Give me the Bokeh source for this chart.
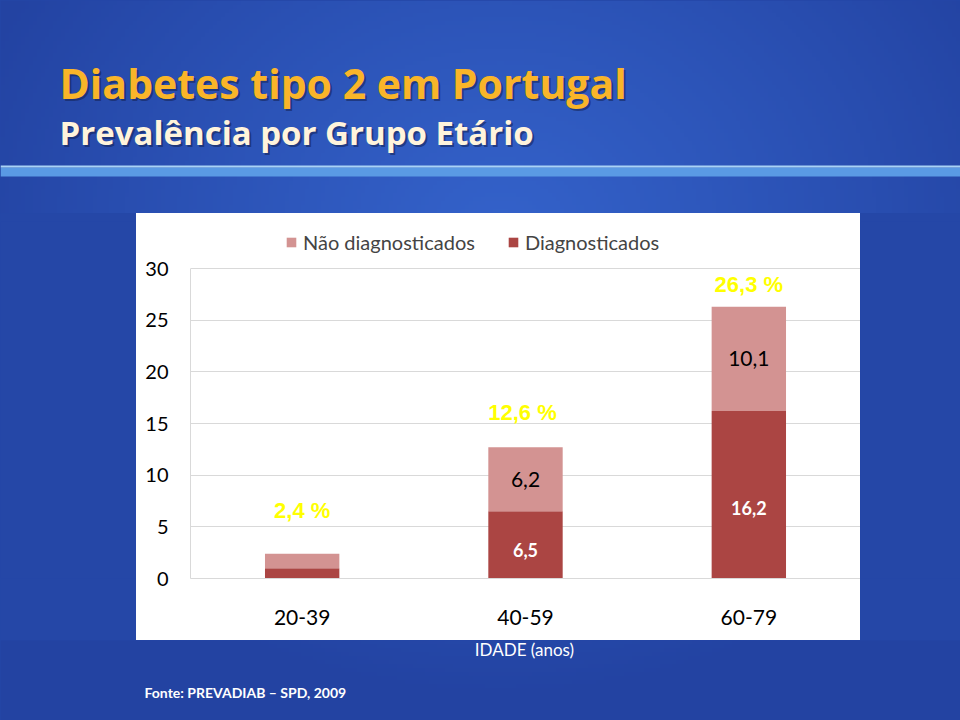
import numpy as np
from bokeh.plotting import figure
from bokeh.models import (ColumnDataSource, Range1d, FactorRange, Legend, LegendItem,
                          FixedTicker)
from bokeh.layouts import column, row
from bokeh.core.properties import value
from bokeh.embed import file_html
from bokeh.resources import INLINE

# ---------------- data ----------------
age_groups = ["20-39", "40-59", "60-79"]
diagnosticados = [1.0, 6.5, 16.2]
nao_diagnosticados = [1.4, 6.2, 10.1]
diag_labels = ["", "6,5", "16,2"]
nao_labels = ["", "6,2", "10,1"]
total_labels = ["2,4 %", "12,6  %", "26,3 %"]
y_ticks = [0, 5, 10, 15, 20, 25, 30]

title_text = "Diabetes tipo 2 em Portugal"
subtitle_text = "Prevalência por Grupo Etário"
x_axis_title = "IDADE (anos)"
source_note = "Fonte: PREVADIAB – SPD, 2009"
series_names = ["Não diagnosticados", "Diagnosticados"]

# ---------------- styles ----------------
LIGHT = "#D39392"
DARK = "#AB4543"
YELLOW = "#FFFF00"
GRID = "#D9D9D9"
FONT = "Lato"
TFONT = "Open Sans"
STRIP = "#2547A7"
SW, SH = 960, 720  # slide size (page pixels)

# background gradient (decoration only)
gw, gh = 240, 180
gx = (np.arange(gw) + 0.5) * SW / gw
gup = (np.arange(gh) + 0.5) * SH / gh
GX, GUP = np.meshgrid(gx, gup)
GY = SH - GUP
dist = np.sqrt(((GX - 500) / 560) ** 2 + ((GY - 230) / 470) ** 2)
tt = np.clip(dist, 0, 1) ** 1.1
c0 = np.array([52, 98, 202], dtype=float)
c1 = np.array([35, 67, 162], dtype=float)
rgb = c0 + (c1 - c0) * tt[..., None]
bg_img = np.empty((gh, gw), dtype=np.uint32)
bv = bg_img.view(dtype=np.uint8).reshape((gh, gw, 4))
bv[..., 0] = rgb[..., 0]
bv[..., 1] = rgb[..., 1]
bv[..., 2] = rgb[..., 2]
bv[..., 3] = 255


def U(y):
    return SH - y


def decor(x0, x1, y0, y1, gradient=True, fill=STRIP):
    f = figure(width=int(x1 - x0), height=int(y1 - y0),
               x_range=Range1d(x0, x1), y_range=Range1d(U(y1), U(y0)),
               x_axis_type=None, y_axis_type=None, toolbar_location=None,
               output_backend="svg", outline_line_color=None,
               background_fill_color=fill, border_fill_color=fill,
               styles={"background-color": fill})
    f.min_border = 0
    f.min_border_left = 0
    f.min_border_right = 0
    f.min_border_top = 0
    f.min_border_bottom = 0
    if gradient:
        f.image_rgba(image=[bg_img], x=0, y=0, dw=SW, dh=SH)
    return f


# ---------------- header ----------------
header = decor(0, 960, 0, 213)
header.quad(left=[0], right=[SW], bottom=[U(176)], top=[U(167)],
            fill_color="#5A9AE4", line_color=None)
header.quad(left=[0], right=[SW], bottom=[U(167)], top=[U(165)],
            fill_color="#A9D3F5", line_color=None)
for txt, yb, size, col in [(title_text, 82, "41px", "#F9B529"),
                           (subtitle_text, 132, "33px", "#FFF4DC")]:
    header.text(x=[61], y=[U(yb) - 2], text=[txt], text_font=value(TFONT),
                text_font_style="bold", text_font_size=size, text_color="#13204F",
                text_alpha=0.55, text_baseline="alphabetic", text_align="left")
    header.text(x=[59], y=[U(yb)], text=[txt], text_font=value(TFONT),
                text_font_style="bold", text_font_size=size, text_color=col,
                text_baseline="alphabetic", text_align="left")

# ---------------- side strips ----------------
left = decor(0, 136, 213, 640, gradient=False)
right = decor(860, 960, 213, 640, gradient=False)

# ---------------- footer ----------------
footer = decor(0, 960, 640, 720)
footer.text(x=[524], y=[U(649)], text=[x_axis_title], text_font=value(FONT),
            text_font_size="17px", text_color="white", text_align="center",
            text_baseline="middle")
footer.text(x=[144], y=[U(692)], text=[source_note], text_font=value(FONT),
            text_font_style="bold", text_font_size="14px", text_color="white",
            text_align="left", text_baseline="middle")

# ---------------- chart ----------------
totals = [d + n for d, n in zip(diagnosticados, nao_diagnosticados)]
src = ColumnDataSource(dict(
    age=age_groups,
    diag=diagnosticados,
    nao=nao_diagnosticados,
    total=totals,
    diag_lbl=diag_labels,
    nao_lbl=nao_labels,
    total_lbl=total_labels,
    nao_mid=[d + n / 2 for d, n in zip(diagnosticados, nao_diagnosticados)],
    diag_pos=[d * 0.42 for d in diagnosticados],
    lift=[-43, -35, -22],
))

# y range extends above 30 to leave room for the legend inside the frame
p = figure(width=724, height=427, x_range=FactorRange(*age_groups),
           y_range=Range1d(0, 34.55), toolbar_location=None, output_backend="svg",
           outline_line_color=None, background_fill_color="white",
           border_fill_color="white", styles={"background-color": "white"},
           min_border_left=54, min_border_right=0, min_border_top=8,
           min_border_bottom=62)

rs = p.vbar_stack(["diag", "nao"], x="age", width=0.333, source=src,
                  fill_color=[DARK, LIGHT], line_color=None)

p.text(x="age", y="nao_mid", text="nao_lbl", source=src, text_font=value(FONT),
       text_font_size="21px", text_color="black", text_align="center",
       text_baseline="middle")
p.text(x="age", y="diag_pos", text="diag_lbl", source=src, text_font=value(FONT),
       text_font_style="bold", text_font_size="18px", text_color="white",
       text_align="center", text_baseline="middle")
p.text(x="age", y="total", text="total_lbl", source=src, y_offset="lift",
       text_font=value("Liberation Sans"), text_font_style="bold",
       text_font_size="22px", text_color=YELLOW, text_align="center",
       text_baseline="middle")

p.yaxis.ticker = FixedTicker(ticks=y_ticks)
p.ygrid.ticker = FixedTicker(ticks=y_ticks)
p.yaxis.bounds = (0, 30)
p.ygrid.grid_line_color = GRID
p.xgrid.grid_line_color = None
for ax in (p.xaxis, p.yaxis):
    ax.axis_line_color = GRID
    ax.major_tick_line_color = None
    ax.minor_tick_line_color = None
    ax.major_tick_out = 0
    ax.major_tick_in = 0
    ax.major_label_text_font = FONT
    ax.major_label_text_color = "black"
p.yaxis.major_label_text_font_size = "20px"
p.yaxis.major_label_standoff = 22
p.xaxis.major_label_text_font_size = "21px"
p.xaxis.major_label_standoff = 31

legend = Legend(items=[LegendItem(label=series_names[0], renderers=[rs[1]]),
                       LegendItem(label=series_names[1], renderers=[rs[0]])],
                orientation="horizontal", location=(95, 324),
                label_text_font=FONT, label_text_font_size="20px",
                glyph_width=12, glyph_height=12, label_standoff=6, spacing=32,
                padding=0, margin=0, border_line_color=None,
                background_fill_alpha=0, label_height=20)
p.add_layout(legend)

layout = column(header, row(left, p, right), footer)

open("out.html", "w").write(file_html(layout, INLINE))
